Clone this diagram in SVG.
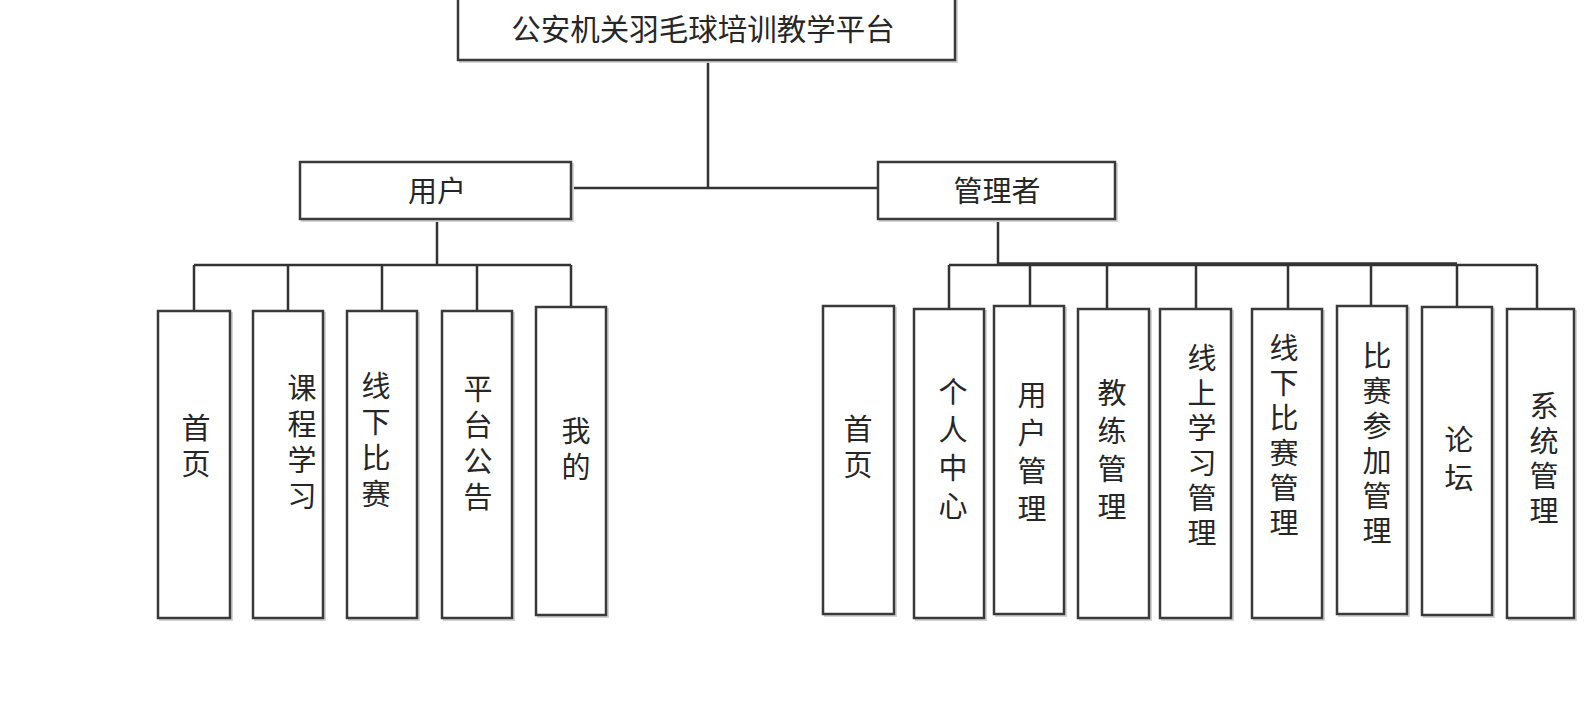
<svg xmlns="http://www.w3.org/2000/svg" width="1596" height="724" viewBox="0 0 1596 724">
<style>
.box{fill:#fff;stroke:#3a3a3a;stroke-width:2.5}
.sh{fill:none;stroke:#d4d4d4;stroke-width:2}
.ln{fill:none;stroke:#333;stroke-width:2.5}
text{font-family:"Noto Sans CJK SC","Noto Sans",sans-serif;font-size:29px;fill:#262626;text-anchor:middle}
.v{writing-mode:vertical-rl;text-orientation:upright;text-anchor:start;letter-spacing:7px}
.v6{letter-spacing:6px}
.v9{letter-spacing:9px}
</style>
<rect width="1596" height="724" fill="#fff"/>
<g id="connectors">
<path class="ln" d="M708 60V188M571 188H878"/>
<path class="ln" d="M437 219V265M194 265H571M194 265V311M288 265V311M382 265V311M477 265V311M571 265V307"/>
<path class="ln" d="M998 219V265M949 265H1537M998 263.5H1457M949 265V309M1030 265V306M1107 265V309M1196 265V309M1288 265V309M1371 265V306M1457 265V307M1537 265V309"/>
</g>
<g id="root"><rect class="sh" x="460" y="0" width="497" height="62"/><rect class="box" x="458" y="-2" width="497" height="62"/><text x="703" y="40" style="font-size:29.5px">公安机关羽毛球培训教学平台</text></g>
<g id="user"><rect class="sh" x="302" y="164" width="271" height="57"/><rect class="box" x="300" y="162" width="271" height="57"/><text x="437" y="202">用户</text></g>
<g id="admin"><rect class="sh" x="880" y="164" width="237" height="57"/><rect class="box" x="878" y="162" width="237" height="57"/><text x="997" y="202">管理者</text></g>

<g id="u1"><rect class="sh" x="160" y="313" width="72" height="307"/><rect class="box" x="158" y="311" width="72" height="307"/><text class="v" x="196" y="413">首页</text></g>
<g id="u2"><rect class="sh" x="255" y="313" width="70" height="307"/><rect class="box" x="253" y="311" width="70" height="307"/><text class="v" x="302" y="373">课程学习</text></g>
<g id="u3"><rect class="sh" x="349" y="313" width="70" height="307"/><rect class="box" x="347" y="311" width="70" height="307"/><text class="v" x="376" y="371">线下比赛</text></g>
<g id="u4"><rect class="sh" x="444" y="313" width="70" height="307"/><rect class="box" x="442" y="311" width="70" height="307"/><text class="v" x="478" y="374">平台公告</text></g>
<g id="u5"><rect class="sh" x="538" y="309" width="70" height="308"/><rect class="box" x="536" y="307" width="70" height="308"/><text class="v" x="576" y="416">我的</text></g>

<g id="a1"><rect class="sh" x="825" y="308" width="71" height="308"/><rect class="box" x="823" y="306" width="71" height="308"/><text class="v" x="858" y="414">首页</text></g>
<g id="a2"><rect class="sh" x="916" y="311" width="70" height="309"/><rect class="box" x="914" y="309" width="70" height="309"/><text class="v v9" x="953" y="377">个人中心</text></g>
<g id="a3"><rect class="sh" x="996" y="308" width="70" height="308"/><rect class="box" x="994" y="306" width="70" height="308"/><text class="v v9" x="1032" y="380">用户管理</text></g>
<g id="a4"><rect class="sh" x="1080" y="311" width="71" height="309"/><rect class="box" x="1078" y="309" width="71" height="309"/><text class="v v9" x="1112" y="378">教练管理</text></g>
<g id="a5"><rect class="sh" x="1162" y="311" width="71" height="309"/><rect class="box" x="1160" y="309" width="71" height="309"/><text class="v v6" x="1202" y="343">线上学习管理</text></g>
<g id="a6"><rect class="sh" x="1254" y="311" width="70" height="309"/><rect class="box" x="1252" y="309" width="70" height="309"/><text class="v v6" x="1284" y="333">线下比赛管理</text></g>
<g id="a7"><rect class="sh" x="1339" y="308" width="70" height="308"/><rect class="box" x="1337" y="306" width="70" height="308"/><text class="v v6" x="1377" y="341">比赛参加管理</text></g>
<g id="a8"><rect class="sh" x="1424" y="309" width="70" height="308"/><rect class="box" x="1422" y="307" width="70" height="308"/><text class="v v9" x="1459" y="425">论坛</text></g>
<g id="a9"><rect class="sh" x="1509" y="311" width="67" height="309"/><rect class="box" x="1507" y="309" width="67" height="309"/><text class="v v6" x="1544" y="391">系统管理</text></g>
</svg>
